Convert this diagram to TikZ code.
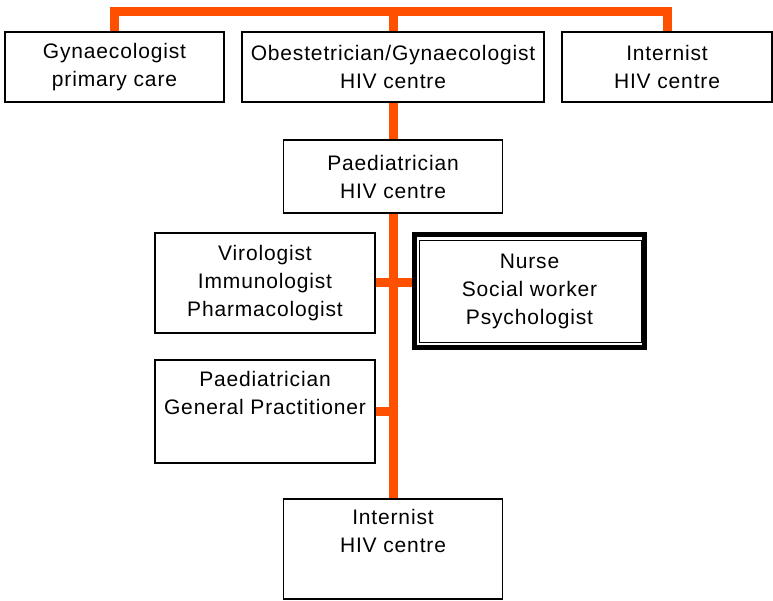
\documentclass[tikz,border=0pt]{standalone}
\usepackage{fontspec}
\setmainfont{Liberation Sans}[LetterSpace=4]
\usepackage{xcolor}
\definecolor{linkorange}{RGB}{255,80,0}

\begin{document}
\begin{tikzpicture}[x=1pt,y=-1pt,
        box/.style={draw, line width=1.3pt, fill=white, inner sep=0pt,
                    align=center, font=\fontsize{21}{28}\selectfont},
        link/.style={draw=linkorange, line width=9pt, line join=miter}]
        \useasboundingbox (0,0) rectangle (773,601);

        \coordinate (bus) at (393,12);

        \node[box, minimum width=219, minimum height=70] (gynpc)  at (114.5,67) {Gynaecologist\\primary care};
        \node[box, minimum width=302, minimum height=70] (obgyn)  at (393,67)   {Obestetrician/Gynaecologist\\HIV centre};
        \node[box, minimum width=210, minimum height=70] (inttop) at (667,67)   {Internist\\HIV centre};

        \node[box, minimum width=219, minimum height=73] (paedhiv) at (393,176.5) {Paediatrician\\HIV centre};

        \node[box, minimum width=220, minimum height=100] (viro) at (265,283) {Virologist\\Immunologist\\Pharmacologist};
        \node[box, line width=5pt, minimum width=230, minimum height=113] (nurse) at (529.5,291) {Nurse\\Social worker\\Psychologist};
        \draw[line width=1.3pt] ([shift={(7.5,8.5)}]nurse.north west) rectangle ([shift={(-5.5,-7.5)}]nurse.south east);

        \node[box, minimum width=220, minimum height=103] (paedgp) at (265,411.5) {Paediatrician\\General Practitioner\\\strut};

        \node[box, minimum width=219, minimum height=100] (intbot) at (393,549) {Internist\\HIV centre\\\strut};

        \draw[link] (gynpc.north) |- (bus) -| (inttop.north);
        \draw[link] (bus) -- (obgyn.north);
        \draw[link] (obgyn.south) -- (paedhiv.north);
        \draw[link] (paedhiv.south) -- (intbot.north);
        \draw[link] (viro.east) -- (viro.east -| nurse.west);
        \draw[link] (paedgp.east) -- (paedgp.east -| bus);
    \end{tikzpicture}
\end{document}
